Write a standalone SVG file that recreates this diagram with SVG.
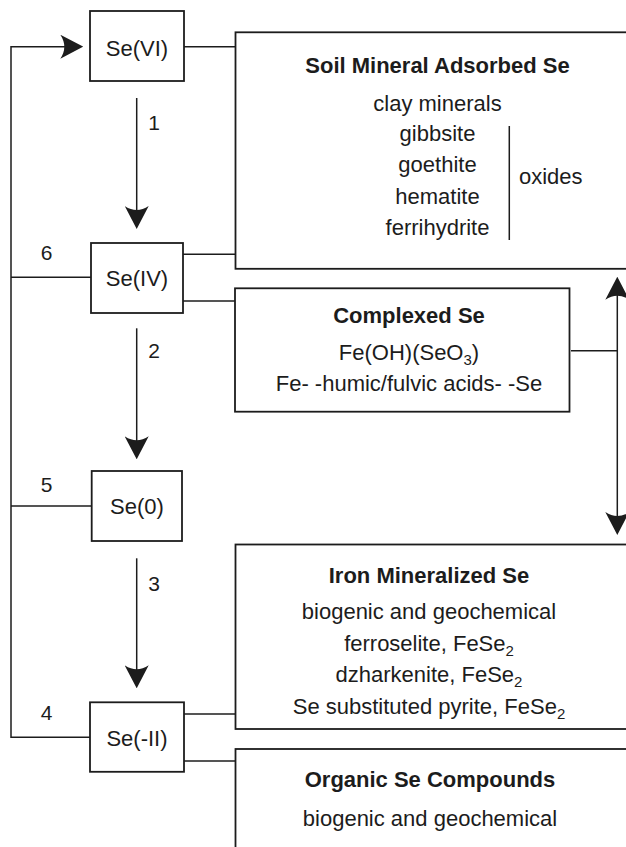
<svg xmlns="http://www.w3.org/2000/svg" width="626" height="847" viewBox="0 0 626 847">
<style>
  .box { fill: #ffffff; stroke: #1c1c1c; stroke-width: 1.8; }
  .ln { fill: none; stroke: #1c1c1c; stroke-width: 1.5; }
  text { font-family: "Liberation Sans", Arial, Helvetica, sans-serif; fill: #1c1c1c; }
  .sp { font-size: 22px; text-anchor: middle; }
  .num { font-size: 21px; text-anchor: middle; }
  .t { font-size: 22px; font-weight: bold; text-anchor: middle; }
  .b { font-size: 22px; text-anchor: middle; }
  .sub { font-size: 15px; }
</style>
<defs>
  <marker id="ah" viewBox="-23 -12 23 24" refX="-8" refY="0" markerWidth="23" markerHeight="24" markerUnits="userSpaceOnUse" orient="auto-start-reverse">
    <path d="M0,0 L-23,-12 Q-15,0 -23,12 Z" fill="#1c1c1c"/>
  </marker>
</defs>

<g id="connectors">
  <path class="ln" d="M136.7,98 V221" marker-end="url(#ah)"/>
  <path class="ln" d="M136.7,328.3 V451.3" marker-end="url(#ah)"/>
  <path class="ln" d="M136.7,558.3 V680.3" marker-end="url(#ah)"/>
  <path class="ln" d="M90,737.3 H11 V46.7 H75.3" marker-end="url(#ah)"/>
  <path class="ln" d="M11,277.3 H91"/>
  <path class="ln" d="M11,506 H91.7"/>
  <path class="ln" d="M617.3,284.7 V527" marker-start="url(#ah)" marker-end="url(#ah)"/>
  <path class="ln" d="M184,46.7 H235.5"/>
  <path class="ln" d="M183,254.3 H235.5"/>
  <path class="ln" d="M183,301 H235"/>
  <path class="ln" d="M571,350.7 H617.3"/>
  <path class="ln" d="M184,714 H235.5"/>
  <path class="ln" d="M184,761 H235.5"/>
  <text class="num" x="154" y="130">1</text>
  <text class="num" x="154" y="358">2</text>
  <text class="num" x="154" y="591">3</text>
  <text class="num" x="46.7" y="720">4</text>
  <text class="num" x="46.7" y="491.7">5</text>
  <text class="num" x="46.7" y="260">6</text>
</g>

<g id="se6">
  <rect class="box" x="90" y="11" width="94" height="70"/>
  <text class="sp" x="137" y="55.5">Se(VI)</text>
</g>
<g id="se4">
  <rect class="box" x="91" y="243" width="92" height="70"/>
  <text class="sp" x="137" y="285.5">Se(IV)</text>
</g>
<g id="se0">
  <rect class="box" x="91.7" y="471" width="90.3" height="70"/>
  <text class="sp" x="137" y="514">Se(0)</text>
</g>
<g id="seminus2">
  <rect class="box" x="90" y="702.3" width="94" height="69.5"/>
  <text class="sp" x="137" y="745.5">Se(-II)</text>
</g>

<g id="soil-mineral">
  <rect class="box" x="235.5" y="32.3" width="404" height="236.5"/>
  <text class="t" x="437.5" y="73.3">Soil Mineral Adsorbed Se</text>
  <text class="b" x="437.5" y="110.5">clay minerals</text>
  <text class="b" x="437.5" y="141">gibbsite</text>
  <text class="b" x="437.5" y="172">goethite</text>
  <text class="b" x="437.5" y="204">hematite</text>
  <text class="b" x="437.5" y="235">ferrihydrite</text>
  <path class="ln" d="M509.3,126 V240"/>
  <text x="519" y="184" style="font-size:22px">oxides</text>
</g>

<g id="complexed">
  <rect class="box" x="235" y="288.3" width="334.5" height="123.4"/>
  <text class="t" x="409" y="322.5">Complexed Se</text>
  <text class="b" x="409" y="360">Fe(OH)(SeO<tspan class="sub" dy="5">3</tspan><tspan dy="-5">)</tspan></text>
  <text class="b" x="409" y="390.7">Fe- -humic/fulvic acids- -Se</text>
</g>

<g id="iron-mineralized">
  <rect class="box" x="235.5" y="544.5" width="404" height="184.5"/>
  <text class="t" x="429" y="583.3">Iron Mineralized Se</text>
  <text class="b" x="429" y="619.3">biogenic and geochemical</text>
  <text class="b" x="429" y="650.8">ferroselite, FeSe<tspan class="sub" dy="5">2</tspan></text>
  <text class="b" x="429" y="682.3">dzharkenite, FeSe<tspan class="sub" dy="5">2</tspan></text>
  <text class="b" x="429" y="713.8">Se substituted pyrite, FeSe<tspan class="sub" dy="5">2</tspan></text>
</g>

<g id="organic">
  <rect class="box" x="235.5" y="749" width="404" height="130"/>
  <text class="t" x="430" y="787">Organic Se Compounds</text>
  <text class="b" x="430" y="826">biogenic and geochemical</text>
</g>
</svg>
